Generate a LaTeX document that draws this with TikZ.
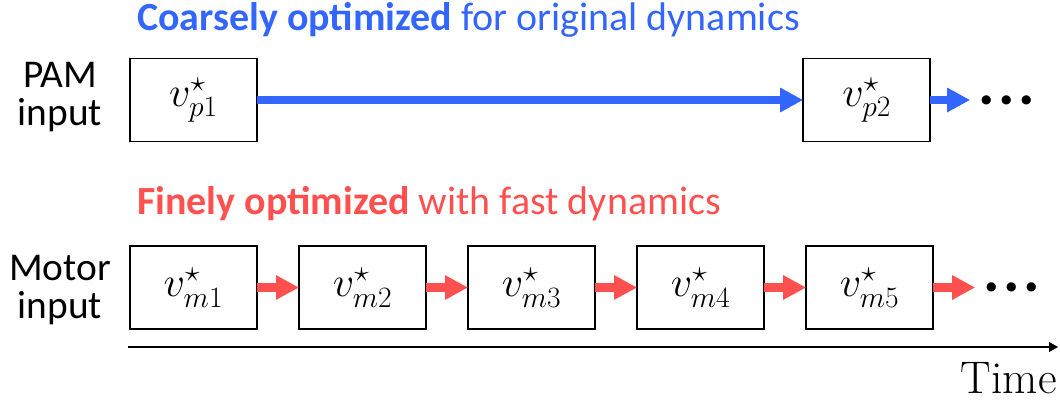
\RequirePackage{fix-cm}
\documentclass[tikz,border=0pt]{standalone}
\usepackage{fontspec}
\newfontfamily\calibri{Carlito}
\usetikzlibrary{arrows.meta,positioning}
\definecolor{coarsecol}{RGB}{51,102,255}
\definecolor{finecol}{RGB}{255,80,80}

\begin{document}
\begin{tikzpicture}[
    x=0.025cm, y=-0.025cm,
    >=Stealth,
    optbox/.style={draw=black, line width=1pt, minimum width=3.175cm,
                   minimum height=2.075cm, inner sep=0pt, outer sep=0pt,
                   font=\fontsize{30}{36}\selectfont},
    rowlabel/.style={font=\calibri\fontsize{28}{27.5}\selectfont, align=center},
    rowtitle/.style={font=\calibri\fontsize{28.4}{30}\selectfont, color=#1,
                     anchor=base west, inner sep=0pt},
    arr/.style={-{Triangle[length=5.75mm,width=5.75mm]}, line width=5.7pt, color=#1},
    moredots/.style={font=\calibri\bfseries\fontsize{44}{44}\selectfont,
                     inner xsep=0.2cm, inner ysep=0pt, outer sep=0pt},
    timeaxis/.style={-{Triangle[length=2.2mm,width=2.4mm]}, line width=0.8pt},
    node distance=1.05cm,
]
\useasboundingbox (0,0) rectangle (1060,403);

% ============ PAM ROW ============
\node[rowtitle=coarsecol] (coarse) at (137,30) {\textbf{Coarsely optimized} for original dynamics};
\node[rowlabel] (pamlab) at (60,97) {PAM\\input};

\node[optbox] (p1) at (193.5,100) {$v^{\star}_{p1}$};
\node[optbox, right=13.65cm of p1] (p2) {$v^{\star}_{p2}$};
\node[moredots, right=1cm of p2] (pdots) {.\kern2.5pt.\kern2.5pt.};

\draw[arr=coarsecol] (p1) -- (p2);
\draw[arr=coarsecol] (p2) -- (pdots);

% ============ MOTOR ROW ============
\node[rowtitle=finecol] (fine) at (137,214) {\textbf{Finely optimized} with fast dynamics};
\node[rowlabel] (motorlab) at (60,290) {Motor\\input};

\node[optbox] (m1) at (193.5,287.5) {$v^{\star}_{m1}$};
\node[optbox, right=of m1] (m2) {$v^{\star}_{m2}$};
\node[optbox, right=of m2] (m3) {$v^{\star}_{m3}$};
\node[optbox, right=of m3] (m4) {$v^{\star}_{m4}$};
\node[optbox, right=of m4] (m5) {$v^{\star}_{m5}$};
\node[moredots, right=1.05cm of m5] (mdots) {.\kern2.5pt.\kern2.5pt.};

\draw[arr=finecol] (m1) -- (m2);
\draw[arr=finecol] (m2) -- (m3);
\draw[arr=finecol] (m3) -- (m4);
\draw[arr=finecol] (m4) -- (m5);
\draw[arr=finecol] (m5) -- (mdots);

% ============ TIME AXIS ============
\coordinate (tstart) at (128,347);
\coordinate (tend) at (1058,347);
\draw[timeaxis] (tstart) -- (tend);
\node[font=\fontsize{32.5}{38}\selectfont, anchor=base east, inner sep=0pt] (timelab) at (1057,393) {Time};

\end{tikzpicture}
\end{document}
